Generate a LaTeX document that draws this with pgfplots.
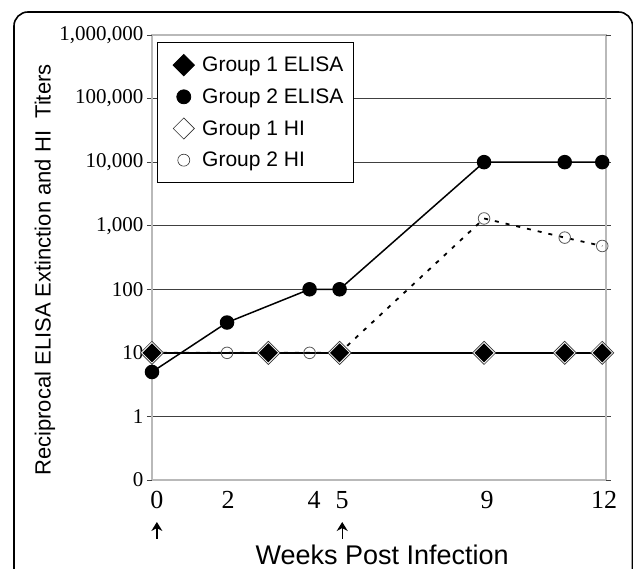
\documentclass[border=0pt]{standalone}
\usepackage{fontspec}
\setmainfont{Liberation Serif}
\newfontfamily\arial{Liberation Sans}
\usepackage{pgfplots}
\pgfplotsset{compat=1.18}
\usetikzlibrary{arrows.meta}

\begin{document}
\begin{tikzpicture}
\useasboundingbox (-152pt,-89pt) rectangle (481pt,480pt);
\begin{scope}
\clip (-152pt,-89pt) rectangle (481pt,480pt);
\draw[line width=1.6pt, rounded corners=14pt] (-138pt,-120pt) -- (-138pt,468pt) -- (480.5pt,468pt) -- (480.5pt,-120pt);
\end{scope}
\begin{axis}[
  at={(0pt,0pt)}, anchor=south west,
  scale only axis, width=454pt, height=445pt,
  ymode=log, xmin=0, xmax=12.1, ymin=0.1, ymax=1000000,
  axis line style={draw=gray!55, line width=1.2pt},
  ytick={1,10,100,1000,10000,100000},
  yticklabels={1,10,100,{1,000},{10,000},{100,000}},
  extra y ticks={0.1,1000000},
  extra y tick labels={0,{1,000,000}},
  extra y tick style={grid=none},
  yminorticks=false,
  ymajorgrids,
  major grid style={black!75, line width=0.8pt},
  tick align=outside, major tick length=5pt,
  ytick style={black!75, line width=0.8pt},
  xtick={0.13,2.03,4.32,5.07,8.93,12.05},
  xticklabels={0,2,4,5,9,12},
  xtick style={draw=none},
  xticklabel style={font=\fontsize{26}{26}\selectfont, yshift=-3pt},
  yticklabel style={font=\fontsize{21}{21}\selectfont},
  xlabel={Weeks Post Infection},
  xlabel style={font=\fontsize{27}{27}\selectfont\arial, at={(axis description cs:0.507,-0.168)}, anchor=center},
  ylabel={Reciprocal ELISA Extinction and HI\ \ Titers},
  ylabel style={font=\fontsize{22}{22}\selectfont\arial, at={(axis description cs:-0.236,0.472)}, anchor=center},
  clip=false,
  legend style={at={(axis description cs:0.011,0.984)}, anchor=north west, draw=black, line width=0.8pt,
    font=\fontsize{21}{25}\selectfont\arial, row sep=11pt, inner xsep=8pt, inner ysep=12pt},
  legend cell align=left,
  legend image code/.code={\path (0pt,0pt) (34pt,0pt); \draw[#1] plot coordinates {(18pt,0pt)};},
]
% Group 2 HI
\addplot[forget plot, black, line width=1.8pt, dash pattern=on 4pt off 7pt, mark=o, mark size=5.8pt,
  mark options={solid, draw=black!65, line width=0.8pt}]
  coordinates {(0,10) (2,10) (4.2,10) (5,10) (8.85,1300) (11,650) (12,480)};
% Group 1 HI
\addplot[forget plot, only marks, mark=square*, mark size=8.2pt,
  mark options={rotate=45, fill=white, draw=black!80, line width=0.7pt}]
  coordinates {(0,10) (3.1,10) (5,10) (8.85,10) (11,10) (12,10)};
% Group 1 ELISA
\addplot[forget plot, black, line width=1.5pt, mark=square*, mark size=6pt,
  mark options={rotate=45, fill=black}]
  coordinates {(0,10) (3.1,10) (5,10) (8.85,10) (11,10) (12,10)};
% Group 2 ELISA
\addplot[forget plot, black, line width=1.5pt, mark=*, mark size=6.5pt]
  coordinates {(0,5) (2,30) (4.2,100) (5,100) (8.85,10000) (11,10000) (12,10000)};

\addlegendimage{black, mark=square*, mark size=7.5pt, mark options={rotate=45, fill=black}}
\addlegendentry{Group 1 ELISA}
\addlegendimage{black, mark=*, mark size=7pt}
\addlegendentry{Group 2 ELISA}
\addlegendimage{black!80, mark=square, mark size=7.5pt, mark options={rotate=45, line width=0.6pt}}
\addlegendentry{Group 1 HI}
\addlegendimage{black!80, mark=o, mark size=6pt, mark options={line width=0.6pt}}
\addlegendentry{Group 2 HI}

\coordinate (a0) at (axis cs:0.13,0.1);
\coordinate (a5) at (axis cs:5.07,0.1);
\end{axis}
\draw[line width=1.4pt, -{Stealth[length=9pt,width=11pt]}] ([yshift=-59pt]a0) -- ([yshift=-42pt]a0);
\draw[line width=1.4pt, -{Stealth[length=9pt,width=11pt]}] ([yshift=-59pt]a5) -- ([yshift=-42pt]a5);
\end{tikzpicture}
\end{document}
